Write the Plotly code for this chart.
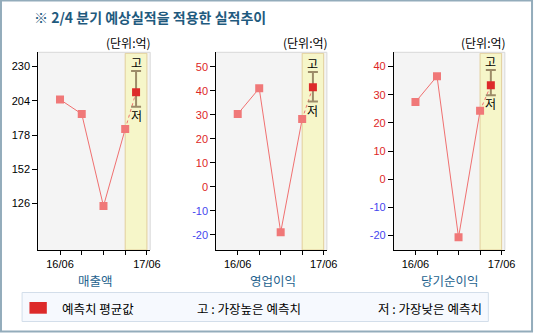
import plotly.graph_objects as go

W, H = 544, 333

# x positions: four reported quarters, then the forecast quarter midway in the shaded band
x_hist = [0, 1, 2, 3]
x_fc = 3.5
x_tick_vals = [0, 1, 2, 3, 4]
x_tick_text = ["16/06", "", "", "", "17/06"]

panel_names = ["매출액", "영업이익", "당기순이익"]
sales = [205, 194, 124, 182.5]
op_income = [30.3, 41, -18.9, 28.2]
net_income = [27.4, 36.6, -20.7, 24.3]
fc_avg = [210.6, 41.5, 33.4]
fc_high = [226.7, 47.8, 38.8]
fc_low = [199.5, 35.5, 29.8]
y_ticks = [[126, 152, 178, 204, 230],
           [-20, -10, 0, 10, 20, 30, 40, 50],
           [-20, -10, 0, 10, 20, 30, 40]]
y_ranges = [[90.6, 240.9], [-26.3, 56], [-25.2, 45.1]]
series = [sales, op_income, net_income]

# pixel layout of the three panels (left, right); shared top/bottom
panel_px = [(39, 153), (220.3, 333), (401.3, 514.3)]
top_px, bottom_px = 52.3, 250

LINE_C = "#f07070"
MARK_C = "#f07878"
AVG_C = "#dd2a2a"
BAR_C = "#9c8b68"
BLUE_TXT = "#24628e"
NUM_FONT = "Liberation Sans, Noto Sans CJK KR, sans-serif"
KR_FONT = "Noto Sans CJK KR, sans-serif"


def px_x(p):
    return p / W


def px_y(p):
    return 1 - p / H


fig = go.Figure()
shapes = []
annotations = []
layout_axes = {}

for i in range(3):
    n = "" if i == 0 else str(i + 1)
    xa, ya = "x" + n, "y" + n
    vals = series[i]

    fig.add_trace(go.Scatter(
        x=[x_hist[-1], x_fc], y=[vals[-1], fc_avg[i]], mode="lines",
        line=dict(color=LINE_C, width=1, dash="dot"),
        xaxis=xa, yaxis=ya, showlegend=False, hoverinfo="skip"))
    fig.add_trace(go.Scatter(
        x=x_hist, y=vals, mode="lines+markers",
        line=dict(color=LINE_C, width=1),
        marker=dict(symbol="square", size=8, color=MARK_C),
        xaxis=xa, yaxis=ya, showlegend=False))
    fig.add_trace(go.Scatter(
        x=[x_fc], y=[fc_avg[i]], mode="markers",
        marker=dict(symbol="square", size=8, color=AVG_C),
        error_y=dict(type="data", symmetric=False,
                     array=[fc_high[i] - fc_avg[i]],
                     arrayminus=[fc_avg[i] - fc_low[i]],
                     color=BAR_C, thickness=2, width=5),
        xaxis=xa, yaxis=ya, showlegend=False))

    # tick labels: positives black/red, negatives blue
    if i == 0:
        tt = [str(v) for v in y_ticks[i]]
    else:
        tt = [f"<span style='color:{'#4646ee' if v < 0 else '#dd2626'}'>{v}</span>"
              for v in y_ticks[i]]

    l, r = panel_px[i]
    layout_axes["xaxis" + n] = dict(
        domain=[px_x(l), px_x(r)], range=[-1, 4.15], anchor=ya,
        tickvals=x_tick_vals, ticktext=x_tick_text,
        ticks="outside", ticklen=4, tickcolor="black",
        showline=True, linecolor="black", linewidth=1,
        showgrid=False, zeroline=False, fixedrange=True,
        tickfont=dict(family=NUM_FONT, size=11, color="black"))
    layout_axes["yaxis" + n] = dict(
        domain=[px_y(bottom_px), px_y(top_px)], range=y_ranges[i], anchor=xa,
        tickvals=y_ticks[i], ticktext=tt,
        ticks="outside", ticklen=5, tickcolor="black",
        showline=True, linecolor="black", linewidth=1,
        showgrid=False, zeroline=False, fixedrange=True,
        tickfont=dict(family=NUM_FONT, size=11, color="black"))

    # forecast band
    shapes.append(dict(type="rect", xref=xa, yref=ya + " domain",
                       x0=3, x1=4, y0=0, y1=0.995,
                       fillcolor="#f6f6c9", line=dict(color="#e2cf9c", width=1),
                       layer="below"))
    # light frame on top and right of the plot area
    shapes.append(dict(type="line", xref=xa + " domain", yref=ya + " domain",
                       x0=0, x1=1, y0=1, y1=1,
                       line=dict(color="#d8d8d8", width=1)))
    shapes.append(dict(type="line", xref=xa + " domain", yref=ya + " domain",
                       x0=1, x1=1, y0=0, y1=1,
                       line=dict(color="#d8d8d8", width=1)))

    annotations.append(dict(x=x_fc, y=fc_high[i], xref=xa, yref=ya,
                            text="고", showarrow=False, yanchor="bottom",
                            yshift=-1, borderpad=0,
                            font=dict(family=KR_FONT, size=12, color="black")))
    annotations.append(dict(x=x_fc, y=fc_low[i], xref=xa, yref=ya,
                            text="저", showarrow=False, yanchor="top",
                            yshift=1, borderpad=0,
                            font=dict(family=KR_FONT, size=12, color="black")))
    annotations.append(dict(x=px_x(r + 2), y=px_y(42.5), xref="paper", yref="paper",
                            text="(단위:억)", showarrow=False,
                            xanchor="right", yanchor="middle", borderpad=0,
                            font=dict(family=KR_FONT, size=12, color="black")))
    annotations.append(dict(x=px_x((l + r) / 2 + 1), y=px_y(280.5), xref="paper", yref="paper",
                            text=panel_names[i], showarrow=False,
                            xanchor="center", yanchor="middle",
                            font=dict(family=KR_FONT, size=12.5, color=BLUE_TXT)))

# title
annotations.append(dict(x=px_x(33), y=px_y(17.5), xref="paper", yref="paper",
                        text="<b>※ 2/4 분기 예상실적을 적용한 실적추이</b>", showarrow=False,
                        xanchor="left", yanchor="middle",
                        font=dict(family=KR_FONT, size=14, color="#1f5a7e")))

# legend box
shapes.append(dict(type="rect", xref="paper", yref="paper",
                   x0=px_x(22.5), x1=px_x(497.5), y0=px_y(321.5), y1=px_y(292.5),
                   fillcolor="#f6f9fe", line=dict(color="#d3deea", width=1)))
shapes.append(dict(type="rect", xref="paper", yref="paper",
                   x0=px_x(30), x1=px_x(47.7), y0=px_y(313.7), y1=px_y(302),
                   fillcolor=AVG_C, line=dict(width=0)))
legend_texts = [(61, "예측치 평균값"), (198.7, "고 : 가장높은 예측치"), (382.7, "저 : 가장낮은 예측치")]
for lx, txt in legend_texts:
    annotations.append(dict(x=px_x(lx), y=px_y(308), xref="paper", yref="paper",
                            text=txt, showarrow=False, xanchor="left", yanchor="middle",
                            font=dict(family=KR_FONT, size=12.5, color="black")))

# outer frame
shapes.append(dict(type="rect", xref="paper", yref="paper",
                   x0=px_x(1), x1=px_x(542), y0=px_y(331.5), y1=px_y(0.5),
                   line=dict(color="#93acbb", width=2)))

fig.update_layout(
    width=W, height=H, autosize=False,
    margin=dict(l=0, r=0, t=0, b=0, pad=0),
    paper_bgcolor="white", plot_bgcolor="#f4f4f4",
    shapes=shapes, annotations=annotations,
    showlegend=False,
    **layout_axes,
)

fig.write_html("out.html")
